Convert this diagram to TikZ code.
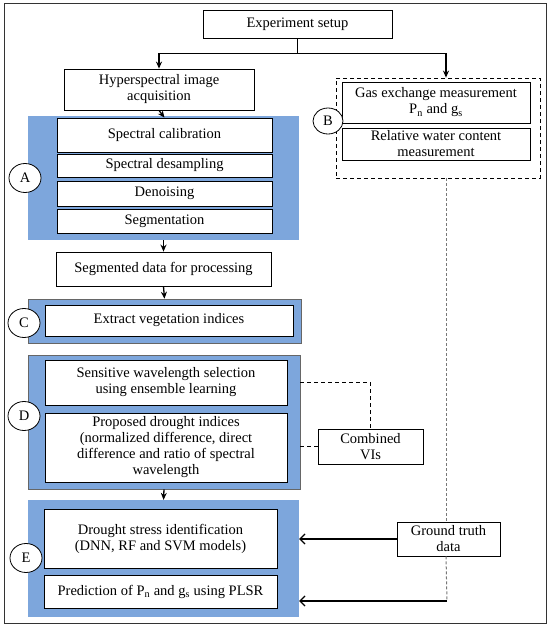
\documentclass[tikz,border=0pt]{standalone}
\usepackage{fontspec}
\setmainfont{Liberation Serif}
\usetikzlibrary{arrows.meta,shapes.geometric}
\definecolor{panelblue}{RGB}{125,166,220}
\definecolor{dashgray}{RGB}{120,120,120}
\tikzset{
  txt/.style={font=\fontsize{14.5}{16}\selectfont},
  box/.style={txt,draw=black,line width=0.8pt,fill=white,inner sep=0pt,align=center},
  panel/.style={fill=panelblue,inner sep=0pt},
  bpanel/.style={panel,draw=black!60,line width=0.6pt},
  tag/.style={txt,ellipse,draw=black,line width=0.8pt,fill=white,inner sep=0pt,minimum width=32pt,minimum height=29pt},
  arr/.style={line width=1.3pt,-{Stealth[length=7pt,width=6pt]}},
  oarr/.style={line width=1.3pt,-{Straight Barb[length=5pt,width=10pt,line width=1.2pt]}},
  conn/.style={line width=1.3pt},
  vdash/.style={dashgray,line width=1pt,dash pattern=on 3pt off 2pt},
  kdash/.style={draw=black,line width=0.8pt,dash pattern=on 4pt off 3pt},
}
\begin{document}
\begin{tikzpicture}[x=1pt,y=-1pt]
\useasboundingbox (0,0) rectangle (550,627);
\draw[line width=0.8pt,black!80] (4,3) rectangle (546,623);
\coordinate (bx) at (446,0);
% top
\node[box,minimum width=189pt,minimum height=28pt] (setup) at (297.5,24) {Experiment setup};
\node[box,minimum width=190pt,minimum height=41pt] (hyper) at (159,89.5) {Hyperspectral image\\acquisition};
% B group
\node[kdash,minimum width=204pt,minimum height=100pt,inner sep=0pt] (Bbox) at (438,128) {};
\node[box,minimum width=188pt,minimum height=41pt] (gas) at (436,102.5) {Gas exchange measurement\\P\textsubscript{n} and g\textsubscript{s}};
\node[box,minimum width=188pt,minimum height=32pt] (rwc) at (436,144) {Relative water content\\measurement};
\node[tag,minimum width=30pt,minimum height=26pt] (circB) at (328,121) {B};
% A panel
\node[panel,minimum width=271pt,minimum height=124pt] (Apanel) at (163.5,178) {};
\node[box,minimum width=215pt,minimum height=34pt] (calib) at (164.5,135) {Spectral calibration};
\node[box,minimum width=215pt,minimum height=23pt] (desamp) at (164.5,165.5) {Spectral desampling};
\node[box,minimum width=215pt,minimum height=25pt] (denoise) at (164.5,193.5) {Denoising};
\node[box,minimum width=215pt,minimum height=24pt] (segm) at (164.5,221) {Segmentation};
\node[tag] (circA) at (25,178) {A};
% segmented
\node[box,minimum width=215pt,minimum height=34pt] (segdata) at (163.5,269) {Segmented data for processing};
% C panel
\node[bpanel,minimum width=273pt,minimum height=44pt] (Cpanel) at (164.5,321) {};
\node[box,minimum width=248pt,minimum height=31pt] (extract) at (169,320.5) {Extract vegetation indices};
\node[tag] (circC) at (24,323) {C};
% D panel
\node[bpanel,minimum width=272pt,minimum height=134pt] (Dpanel) at (164,422) {};
\node[box,minimum width=242pt,minimum height=45pt] (sens) at (166,382.5) {Sensitive wavelength selection\\using ensemble learning};
\node[box,minimum width=242pt,minimum height=69pt] (prop) at (166,447.5) {Proposed drought indices\\(normalized difference, direct\\difference and ratio of spectral\\wavelength};
\node[tag] (circD) at (24,416) {D};
\node[box,minimum width=105pt,minimum height=35pt] (combined) at (370.5,446.5) {Combined\\VIs};
% E panel
\node[panel,minimum width=271pt,minimum height=117pt] (Epanel) at (163.5,558.5) {};
\node[box,minimum width=233pt,minimum height=59pt] (drought) at (160.5,538.5) {Drought stress identification\\(DNN, RF and SVM models)};
\node[box,minimum width=233pt,minimum height=33pt] (predict) at (160.5,591.5) {Prediction of P\textsubscript{n} and g\textsubscript{s} using PLSR};
\node[tag] (circE) at (26,558) {E};
\node[box,minimum width=103pt,minimum height=34pt] (ground) at (448.5,539) {Ground truth\\data};
% connectors top
\draw[conn] (setup.south) -- ++(0,15) coordinate (split);
\draw[arr] (split) -| (hyper.north);
\draw[arr] (split) -| (Bbox.north -| bx);
\draw[arr] (hyper.south) -- (calib.north);
\draw[arr] (Apanel.south) -- (segdata.north);
\draw[arr] (segdata.south) -- (Cpanel.north);
\draw[arr] (Dpanel.south) -- (Epanel.north);
% dashed to combined
\draw[kdash] (sens.east -| Dpanel.east) -| (combined.north);
\draw[kdash] (combined.west -| Dpanel.east) -- (combined.west);
% gray dashed ground truth path
\draw[vdash] (Bbox.south -| bx) -- (ground.north -| bx);
\coordinate (corner) at (447,601);
\draw[vdash] (ground.south -| bx) -- (corner);
\draw[oarr] (corner) -- (corner -| Epanel.east);
\draw[oarr] (ground.west) -- (ground.west -| Epanel.east);
\end{tikzpicture}
\end{document}
